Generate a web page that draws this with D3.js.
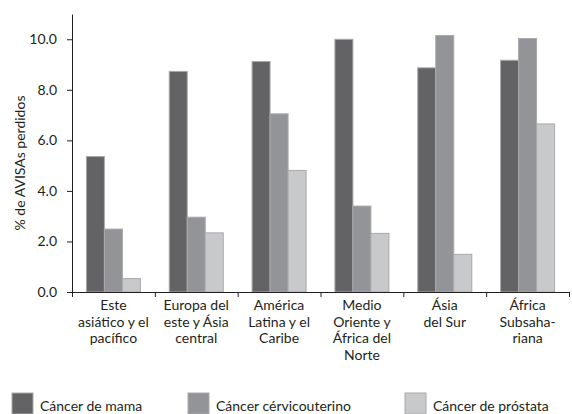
<!DOCTYPE html>
<html>
<head>
<meta charset="utf-8">
<script src="https://cdn.jsdelivr.net/npm/d3@7"></script>
<style>
  html, body { margin: 0; padding: 0; background: #fff; }
  svg { display: block; font-family: Lato, "Open Sans", sans-serif; }
</style>
</head>
<body>
<svg id="chart" width="572" height="414"></svg>
<script>
const categories = [
  ["Este", "asiático y el", "pacífico"],
  ["Europa del", "este y Ásia", "central"],
  ["América", "Latina y el", "Caribe"],
  ["Medio", "Oriente y", "África del", "Norte"],
  ["Ásia", "del Sur"],
  ["África", "Subsaha-", "riana"]
];
const seriesNames = ["Cáncer de mama", "Cáncer cérvicouterino", "Cáncer de próstata"];
const mama = [5.36, 8.73, 9.12, 10.0, 8.87, 9.17];
const cervico = [2.49, 2.96, 7.05, 3.40, 10.15, 10.03];
const prostata = [0.53, 2.34, 4.81, 2.32, 1.49, 6.65];
const yTicks = [0, 2, 4, 6, 8, 10];
const colors = ["#636365", "#939497", "#c8c9cb"];

(function () {
const seriesValues = [mama, cervico, prostata];
const svg = d3.select("#chart");
const textColor = "#231f20";

const mLeft = 72, mRight = 569, mTop = 14, mBottom = 292;
const catIdx = d3.range(categories.length);
const x0 = d3.scaleBand().domain(catIdx).range([mLeft, mRight]).padding(0);
const bw = x0.bandwidth();
const x1 = d3.scaleBand().domain(d3.range(seriesNames.length))
  .range([bw * 0.174, bw * 0.826]).padding(0);
const y = d3.scaleLinear().domain([0, 11]).range([mBottom, mTop]);

// bars
const groups = svg.append("g").selectAll("g").data(catIdx).join("g")
  .attr("transform", i => `translate(${x0(i)},0)`);
groups.selectAll("rect")
  .data(i => seriesValues.map((vals, s) => ({ s, v: vals[i] })))
  .join("rect")
  .attr("x", d => x1(d.s))
  .attr("width", x1.bandwidth())
  .attr("y", d => y(d.v))
  .attr("height", d => y(0) - y(d.v))
  .attr("fill", d => colors[d.s])
  .attr("stroke", "#a9a9ab")
  .attr("stroke-width", 1);

// y axis
const yAxis = svg.append("g").attr("transform", `translate(${mLeft},0)`)
  .call(d3.axisLeft(y).tickValues(yTicks).tickFormat(d3.format(".1f"))
    .tickSize(5).tickSizeOuter(0).tickPadding(10));
yAxis.select(".domain").attr("stroke", textColor);
yAxis.selectAll(".tick line").attr("stroke", textColor);
yAxis.selectAll(".tick text").attr("fill", textColor)
  .style("font-size", "14px").style("font-family", "Lato, 'Open Sans', sans-serif");

// x axis with boundary ticks
const xb = d3.scaleLinear().domain([0, categories.length]).range([mLeft, mRight]);
const xAxis = svg.append("g").attr("transform", `translate(0,${mBottom})`)
  .call(d3.axisBottom(xb).ticks(categories.length).tickFormat("")
    .tickSize(5).tickSizeOuter(0));
xAxis.select(".domain").attr("stroke", textColor);
xAxis.selectAll(".tick line").attr("stroke", textColor);

// category labels
const lab = svg.append("g").selectAll("text").data(catIdx).join("text")
  .attr("x", i => x0(i) + bw / 2)
  .attr("y", 310)
  .attr("text-anchor", "middle")
  .attr("fill", textColor)
  .style("font-size", "14px");
lab.selectAll("tspan").data(i => categories[i]).join("tspan")
  .attr("x", function() { return this.parentNode.getAttribute("x"); })
  .attr("dy", (d, k) => k === 0 ? 0 : 16.7)
  .text(d => d);

// y title
svg.append("text")
  .attr("transform", `translate(25,${(mTop + mBottom) / 2 + 10}) rotate(-90)`)
  .attr("text-anchor", "middle")
  .attr("fill", textColor)
  .style("font-size", "14px")
  .text("% de AVISAs perdidos");

// legend
const legendX = [12, 188, 405];
const leg = svg.append("g").selectAll("g").data(seriesNames).join("g")
  .attr("transform", (d, i) => `translate(${legendX[i]},393)`);
leg.append("rect").attr("width", 21).attr("height", 21)
  .attr("fill", (d, i) => colors[i]).attr("stroke", "#a9a9ab");
leg.append("text").attr("x", 28).attr("y", 18)
  .attr("fill", textColor).style("font-size", "14px").text(d => d);
})();
</script>
</body>
</html>
